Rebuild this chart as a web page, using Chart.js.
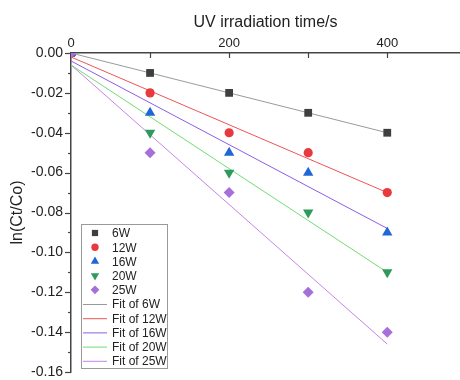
<!DOCTYPE html>
<html>
<head>
<meta charset="utf-8">
<script src="https://cdn.jsdelivr.net/npm/chart.js@4/dist/chart.umd.min.js"></script>
<style>
  html, body { margin: 0; padding: 0; background: #fff; overflow: hidden; }
  #wrap { width: 466px; height: 380px; }
</style>
</head>
<body>
<div id="wrap"><canvas id="myChart"></canvas></div>
<script>
// measured points (time in s, ln(Ct/Co))
const times = [0, 100, 200, 300, 400];
const s6W = [0, -0.01, -0.02, -0.03, -0.04];
const s12W = [0, -0.02, -0.04, -0.05, -0.07];
const s16W = [0, -0.03, -0.05, -0.06, -0.09];
const s20W = [0, -0.04, -0.06, -0.08, -0.11];
const s25W = [0, -0.05, -0.07, -0.12, -0.14];

// fit line end points
const fitTimes = [0, 400];
const fit6W = [0, -0.04];
const fit12W = [-0.002, -0.07];
const fit16W = [-0.004, -0.088];
const fit20W = [-0.006, -0.110];
const fit25W = [-0.006, -0.146];

const xTicks = [0, 100, 200, 300, 400];
const xTickLabels = ['0', '', '200', '', '400'];

const labels = ['6W', '12W', '16W', '20W', '25W'];
const FONT = "'Liberation Sans', Arial, sans-serif";

function pts(xs, ys) {
    return xs.map((x, i) => ({ x: x, y: ys[i] }));
}

const markers = [
    { data: s6W, color: '#3f3f3f', style: 'rect', r: 5.5, rot: 0 },
    { data: s12W, color: '#e83a3e', style: 'circle', r: 4.6, rot: 0 },
    { data: s16W, color: '#1f66d6', style: 'triangle', r: 6, rot: 0 },
    { data: s20W, color: '#2f9a5c', style: 'triangle', r: 6, rot: 180 },
    { data: s25W, color: '#a56fdc', style: 'rectRot', r: 5.5, rot: 0 }
];
const fits = [
    { data: fit6W, color: '#9a9a9a' },
    { data: fit12W, color: '#f05454' },
    { data: fit16W, color: '#8a5ee8' },
    { data: fit20W, color: '#72dc72' },
    { data: fit25W, color: '#c684e8' }
];

const datasets = [];
markers.forEach((m, i) => {
    datasets.push({
        type: 'scatter',
        label: labels[i],
        data: pts(times, m.data),
        pointStyle: m.style,
        pointRadius: m.r,
        pointRotation: m.rot,
        pointBackgroundColor: m.color,
        pointBorderColor: m.color,
        pointBorderWidth: 0,
        showLine: false,
        clip: 0,
        order: 5 - i
    });
});
fits.forEach((f, i) => {
    datasets.push({
        type: 'line',
        label: 'Fit of ' + labels[i],
        data: pts(fitTimes, f.data),
        borderColor: f.color,
        borderWidth: 1,
        pointRadius: 0,
        fill: false,
        clip: 0,
        order: 10
    });
});

// small tick marks: y outward (major/minor), x inward at top
const tickMarks = {
    id: 'tickMarks',
    afterDraw(chart) {
        const ctx = chart.ctx;
        const xs = chart.scales.x, ys = chart.scales.y;
        ctx.save();
        ctx.strokeStyle = '#444';
        ctx.lineWidth = 1.2;
        ys.ticks.forEach(t => {
            const y = Math.round(ys.getPixelForValue(t.value)) + 0.5;
            const major = t.label !== '';
            ctx.beginPath();
            ctx.moveTo(ys.right - (major ? 6 : 3), y);
            ctx.lineTo(ys.right, y);
            ctx.stroke();
        });
        xs.ticks.forEach(t => {
            if (t.value <= 0) return;
            const x = Math.round(xs.getPixelForValue(t.value)) + 0.5;
            ctx.beginPath();
            ctx.moveTo(x, xs.bottom);
            ctx.lineTo(x, xs.bottom + 5);
            ctx.stroke();
        });
        ctx.restore();
    }
};

function drawMarker(ctx, style, x, y, r, rot) {
    ctx.beginPath();
    if (style === 'circle') {
        ctx.arc(x, y, r, 0, Math.PI * 2);
    } else if (style === 'rect') {
        const s = r * Math.SQRT1_2;
        ctx.rect(x - s, y - s, 2 * s, 2 * s);
    } else if (style === 'rectRot') {
        ctx.moveTo(x, y - r); ctx.lineTo(x + r, y); ctx.lineTo(x, y + r); ctx.lineTo(x - r, y);
    } else {
        const d = rot ? -1 : 1;
        ctx.moveTo(x, y - d * r);
        ctx.lineTo(x + r * 0.87, y + d * r * 0.5);
        ctx.lineTo(x - r * 0.87, y + d * r * 0.5);
    }
    ctx.closePath();
    ctx.fill();
}

// boxed legend in the lower left of the plot
const boxLegend = {
    id: 'boxLegend',
    afterDraw(chart) {
        const ctx = chart.ctx;
        const area = chart.chartArea;
        const left = area.left + 10, top = 224, w = 86, h = 144, row = 14.2;
        ctx.save();
        ctx.fillStyle = '#fff';
        ctx.fillRect(left, top, w, h);
        ctx.strokeStyle = '#9a9a9a';
        ctx.lineWidth = 1;
        ctx.strokeRect(left + 0.5, top + 0.5, w, h);
        ctx.font = '12px ' + FONT;
        ctx.textBaseline = 'middle';
        chart.data.datasets.forEach((ds, i) => {
            const y = top + 9 + i * row;
            if (ds.type === 'scatter') {
                ctx.fillStyle = ds.pointBackgroundColor;
                drawMarker(ctx, ds.pointStyle, left + 14, y, ds.pointRadius * 0.8, ds.pointRotation);
            } else {
                ctx.strokeStyle = ds.borderColor;
                ctx.beginPath();
                ctx.moveTo(left + 2, y + 0.5);
                ctx.lineTo(left + 26, y + 0.5);
                ctx.stroke();
            }
            ctx.fillStyle = '#222';
            ctx.fillText(ds.label, left + 31, y + 1);
        });
        ctx.restore();
    }
};

const ctx = document.getElementById('myChart').getContext('2d');
new Chart(ctx, {
    data: { datasets: datasets },
    options: {
        responsive: true,
        maintainAspectRatio: false,
        animation: false,
        layout: { padding: { left: 0, top: 0, right: 0, bottom: 8 } },
        plugins: { legend: { display: false }, tooltip: { enabled: false } },
        scales: {
            x: {
                type: 'linear',
                position: 'top',
                min: 0,
                max: 492,
                afterBuildTicks: s => { s.ticks = xTicks.map(v => ({ value: v })); },
                afterFit: s => { s.height = 53; s.paddingLeft = 0; s.paddingRight = 0; },
                grid: { drawOnChartArea: false, drawTicks: false },
                border: { color: '#444', width: 1.5 },
                ticks: {
                    autoSkip: false,
                    maxRotation: 0,
                    padding: 2,
                    color: '#222',
                    font: { family: FONT, size: 13 },
                    callback: (v, i) => xTickLabels[i]
                },
                title: {
                    display: true,
                    text: 'UV irradiation time/s',
                    color: '#222',
                    font: { family: FONT, size: 16 },
                    padding: { top: 13, bottom: 0 }
                }
            },
            y: {
                type: 'linear',
                min: -0.16,
                max: 0,
                afterFit: s => { s.width = 71; s.paddingTop = 0; s.paddingBottom = 0; },
                grid: { drawOnChartArea: false, drawTicks: false },
                border: { color: '#444', width: 1.5 },
                ticks: {
                    stepSize: 0.01,
                    autoSkip: false,
                    padding: 8,
                    color: '#222',
                    font: { family: FONT, size: 14 },
                    callback: v => (Math.round(v * 100) % 2 === 0 ? (Math.abs(v) < 1e-9 ? '0.00' : v.toFixed(2)) : '')
                },
                title: {
                    display: true,
                    text: 'ln(Ct/Co)',
                    color: '#222',
                    font: { family: FONT, size: 16 },
                    padding: { top: 8, bottom: 0 }
                }
            }
        }
    },
    plugins: [tickMarks, boxLegend]
});
</script>
</body>
</html>
